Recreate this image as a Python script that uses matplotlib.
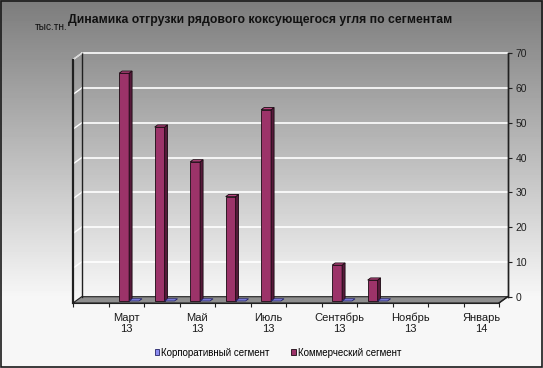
import numpy as np
import matplotlib
matplotlib.use("Agg")
import matplotlib.pyplot as plt
from matplotlib.patches import Polygon, Rectangle, Patch

plt.rcParams['font.family'] = ['Liberation Sans', 'DejaVu Sans']

# ---- data ----
months = ['Февраль', 'Март', 'Апрель', 'Май', 'Июнь', 'Июль', 'Август',
          'Сентябрь', 'Октябрь', 'Ноябрь', 'Декабрь', 'Январь']
years = ['13', '13', '13', '13', '13', '13', '13', '13', '13', '13', '13', '14']
corporate = [np.nan, 0, 0, 0, 0, 0, np.nan, 0, 0, np.nan, np.nan, np.nan]
commercial = [np.nan, 65.5, 50, 40, 30, 55, np.nan, 10.3, 6, np.nan, np.nan, np.nan]
series_names = ['Корпоративный сегмент', 'Коммерческий сегмент']
yticks = [0, 10, 20, 30, 40, 50, 60, 70]
title = 'Динамика отгрузки рядового коксующегося угля по сегментам'
unit = 'тыс.тн.'

W, H = 543, 368
fig = plt.figure(figsize=(W / 100, H / 100), dpi=100)

# background gradient
bg = fig.add_axes([0, 0, 1, 1])
bg.set_axis_off()
rows = np.arange(H)
vals = np.clip(124 + (246 - 124) * rows / 295.0, 0, 247) / 255.0
img = np.repeat(vals[:, None], 2, axis=1)
bg.imshow(img, cmap='gray', vmin=0, vmax=1, aspect='auto', extent=[0, 1, 0, 1])
bg.set_xlim(0, 1); bg.set_ylim(0, 1)
bg.add_patch(Rectangle((0.001, 0.002), 0.997, 0.996, transform=bg.transAxes,
                       fill=False, edgecolor='#1a1a1a', lw=1.2))

# main axes mapped to pixels
n = len(months)
px_cat = 35.5          # px per category
px_val = 3.477         # px per unit
x0_px, y0_px = 73.0, 303.0
xl = (-0.3, 12.7)
yl = (-3.0, 72.5)
left = (x0_px + xl[0] * px_cat) / W
width = (xl[1] - xl[0]) * px_cat / W
bottom = (H - (y0_px - yl[0] * px_val)) / H
height = (yl[1] - yl[0]) * px_val / H
ax = fig.add_axes([left, bottom, width, height])
ax.set_xlim(*xl); ax.set_ylim(*yl)
ax.patch.set_visible(False)

dx, dy = 8.7 / px_cat, 6.3 / px_val            # back wall offset
f1, f2 = 0.33, 0.67                            # bar depth position
bx1, by1 = f1 * dx, f1 * dy
bx2, by2 = f2 * dx, f2 * dy
w = 0.28
ymax = yticks[-1]

# floor
ax.add_patch(Polygon([(0, 0), (n, 0), (n + dx, dy), (dx, dy)], closed=True,
                     facecolor='#8e8e8e', edgecolor='#202020', lw=0.8, zorder=1))
# gridlines on back wall and side wall
for v in yticks[1:]:
    ax.plot([dx, n + dx], [v + dy, v + dy], color='white', lw=1.2, zorder=1)
    ax.plot([0, dx], [v, v + dy], color='white', lw=1.0, zorder=1)
# wall edges
ax.plot([dx, dx], [dy, ymax + dy], color='#202020', lw=1.0, zorder=1.5)
ax.plot([n + dx, n + dx], [dy, ymax + dy], color='#202020', lw=1.0, zorder=1.5)

# bars
for i in range(n):
    c = i + 0.5
    v = commercial[i]
    if not np.isnan(v):
        ax.bar(c - w + bx1, v, width=w, bottom=by1, align='edge',
               color='#9c3369', edgecolor='#1a0a12', lw=0.6, zorder=3)
        ax.add_patch(Polygon([(c + bx1, by1), (c + bx1, v + by1),
                              (c + bx2, v + by2), (c + bx2, by2)], closed=True,
                             facecolor='#561a3a', edgecolor='#1a0a12', lw=0.6, zorder=3))
        ax.add_patch(Polygon([(c - w + bx1, v + by1), (c + bx1, v + by1),
                              (c + bx2, v + by2), (c - w + bx2, v + by2)], closed=True,
                             facecolor='#b8457f', edgecolor='#1a0a12', lw=0.6, zorder=3))
    u = corporate[i]
    if not np.isnan(u):
        ax.add_patch(Polygon([(c + bx1, u + by1), (c + w + bx1, u + by1),
                              (c + w + bx2, u + by2), (c + bx2, u + by2)], closed=True,
                             facecolor='#8c8cf0', edgecolor='#222266', lw=0.6, zorder=3))

# spines / axes
ax.spines['top'].set_visible(False)
ax.spines['left'].set_position(('data', 0))
ax.spines['left'].set_bounds(0, ymax)
ax.spines['left'].set_linewidth(1.6)
ax.spines['left'].set_color('#202020')
ax.spines['bottom'].set_position(('data', 0))
ax.spines['bottom'].set_bounds(0, n)
ax.spines['bottom'].set_color('#202020')
ax.spines['right'].set_position(('data', n + dx))
ax.spines['right'].set_bounds(dy, ymax + dy)
ax.spines['right'].set_color('#202020')
ax.spines['right'].set_linewidth(1.0)

ax.yaxis.tick_right()
ax.set_yticks([v + dy for v in yticks])
ax.set_yticklabels([str(v) for v in yticks])
ax.tick_params(axis='y', direction='out', length=3, width=0.8, colors='#202020',
               labelsize=7.5, pad=2.5)

ax.set_xticks(np.arange(0, n + 1))
ax.set_xticklabels([])
ax.tick_params(axis='x', which='major', direction='out', length=3, width=0.8, colors='#202020')
centers = [i + 0.5 for i in range(1, n, 2)]
labels = [f'{months[i]}\n{years[i]}' for i in range(1, n, 2)]
ax.set_xticks(centers, minor=True)
ax.set_xticklabels(labels, minor=True, fontsize=8, linespacing=1.1)
ax.tick_params(axis='x', which='minor', length=0, pad=7, labelcolor='#1a1a1a')
for t in ax.get_xticklabels(minor=True):
    t.set_horizontalalignment('center')

# edges of floor/side diagonals
ax.plot([n, n + dx], [0, dy], color='#202020', lw=1.0, zorder=2)
ax.plot([0, dx], [ymax, ymax + dy], color='#d8d8d8', lw=1.0, zorder=2)

# title and unit
fig.text(260 / W, 1 - 20.5 / H, title, ha='center', va='center', fontsize=8.8,
         fontweight='bold', color='#111111')
fig.text(35 / W, 1 - 27 / H, unit, ha='left', va='center', fontsize=7.3, color='#111111')

# legend
handles = [Patch(facecolor='#8c8cf0', edgecolor='#222266', lw=0.6),
           Patch(facecolor='#9c3369', edgecolor='#1a0a12', lw=0.6)]
fig.legend(handles, series_names, loc='center', bbox_to_anchor=(278 / W, 1 - 352.5 / H),
           ncol=2, frameon=False, fontsize=7, handlelength=0.5, handleheight=0.5,
           handletextpad=0.2, columnspacing=2.2, borderpad=0.1)

fig.savefig('out.png', dpi=100)
